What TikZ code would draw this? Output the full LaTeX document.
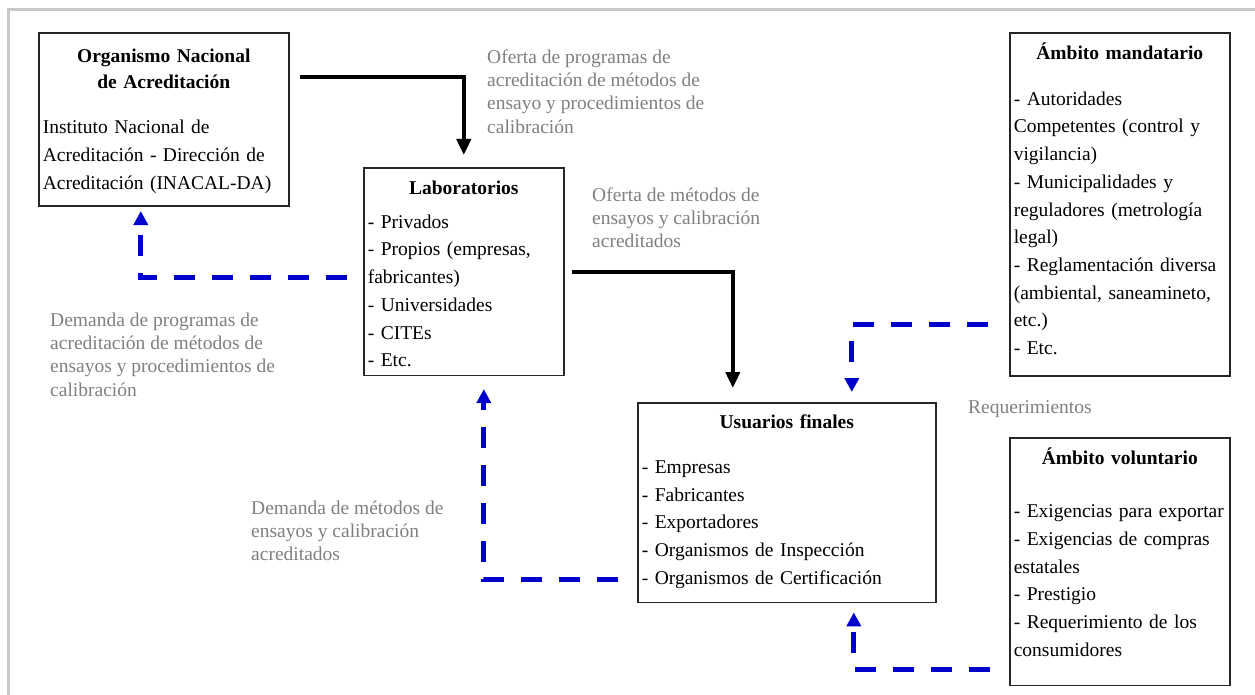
\documentclass[tikz,border=0pt]{standalone}
\usepackage{fontspec}
\setmainfont{Liberation Serif}
\usetikzlibrary{positioning}
\usetikzlibrary{arrows.meta}
\definecolor{azul}{RGB}{0,0,204}
\definecolor{gristexto}{RGB}{128,128,128}
\definecolor{marco}{RGB}{200,200,200}
\tikzset{x=1pt, y=-1pt, % one unit = one pixel of the original figure
      bloque/.style={ % Sets the properties for each box
      draw=black!85, line width=1.6pt,
      inner xsep=4pt, inner ysep=0pt, anchor=north west,
      font=\fontsize{19.5}{27.7}\selectfont},
      rotulo/.style={ % grey labels next to the arrows
      text=gristexto, align=left, anchor=north west, inner sep=0pt,
      font=\fontsize{19.5}{23.3}\selectfont},
      oferta/.style={ % solid black arrows
      draw, line width=4pt, -{Triangle[length=16pt,width=14pt]}},
      demanda/.style={ % dashed blue arrows
      draw=azul, line width=5pt, dash pattern=on 21pt off 17pt,
      -{Triangle[length=14pt,width=14pt]}}}
\newcommand{\tope}{\rule{0pt}{15pt}} % first line of a label starts 15pt above its baseline

\begin{document}
\begin{tikzpicture}
      \useasboundingbox (0,0) rectangle (1255,695);
      \draw[marco, line width=3pt] (8,695) -- (8,10) -- (1255,10);
      % boxes
      \node[bloque, text width=242pt] (onac) at (38,32) {%
            {\centering\bfseries\rule{0pt}{30pt}Organismo Nacional\\[-1.7pt]de Acreditación\par}
            \vspace{17.3pt}
            Instituto Nacional de\\Acreditación - Dirección de\\Acreditación (INACAL-DA)\rule[-17pt]{0pt}{0pt}};
      \node[bloque, text width=192pt] (lab) at (363,167) {%
            {\centering\bfseries\rule{0pt}{26.5pt}Laboratorios\par}
            \vspace{6.3pt}
            - Privados\\- Propios (empresas,\\fabricantes)\\- Universidades\\- CITEs\\- Etc.\rule[-8.5pt]{0pt}{0pt}};
      \node[bloque, text width=290pt] (usr) at (637,402) {%
            {\centering\bfseries\rule{0pt}{25.5pt}Usuarios finales\par}
            \vspace{17.3pt}
            - Empresas\\- Fabricantes\\- Exportadores\\- Organismos de Inspección\\- Organismos de Certificación\rule[-18.5pt]{0pt}{0pt}};
      \node[bloque, text width=212pt] (man) at (1009,32) {%
            {\centering\bfseries\rule{0pt}{26.5pt}Ámbito mandatario\par}
            \vspace{18.3pt}
            - Autoridades\\Competentes (control y\\vigilancia)\\- Municipalidades y\\reguladores (metrología\\legal)\\- Reglamentación diversa\\(ambiental, saneamineto,\\etc.)\\- Etc.\rule[-21.5pt]{0pt}{0pt}};
      \node[bloque, text width=212pt] (vol) at (1009,437) {%
            {\centering\bfseries\rule{0pt}{27pt}Ámbito voluntario\par}
            \vspace{25.3pt}
            - Exigencias para exportar\\- Exigencias de compras\\estatales\\- Prestigio\\- Requerimiento de los\\consumidores\rule[-29pt]{0pt}{0pt}};
      % labels
      \node[rotulo] (ofprog) at (487,48) {\tope Oferta de programas de\\acreditación de métodos de\\ensayo y procedimientos de\\calibración};
      \node[rotulo] (ofmet) at (592,186) {\tope Oferta de métodos de\\ensayos y calibración\\acreditados};
      \node[rotulo] (demprog) at (50,311) {\tope Demanda de programas de\\acreditación de métodos de\\ensayos y procedimientos de\\calibración};
      \node[rotulo] (demmet) at (251,499) {\tope Demanda de métodos de\\ensayos y calibración\\acreditados};
      \node[rotulo] (req) at (968,398) {\tope Requerimientos};
      % arrows
      \draw[oferta] ([xshift=10pt,yshift=-45pt]onac.north east) -| ([yshift=12pt]lab.north);
      \draw[oferta] ([xshift=7pt]lab.east) -| ([xshift=-54pt,yshift=14pt]usr.north);
      \draw[demanda] ([xshift=-16pt,yshift=-6pt]lab.west) -| ([xshift=-23pt,yshift=-4pt]onac.south);
      \draw[demanda] ([xshift=-19pt,yshift=24pt]usr.south west) -| ([xshift=20pt,yshift=-13pt]lab.south);
      \draw[demanda] ([xshift=-21pt,yshift=52pt]man.south west) -| ([xshift=65pt,yshift=10pt]usr.north);
      \draw[demanda] ([xshift=-19pt,yshift=17pt]vol.south west) -| ([xshift=67pt,yshift=-9pt]usr.south);
\end{tikzpicture}
\end{document}
